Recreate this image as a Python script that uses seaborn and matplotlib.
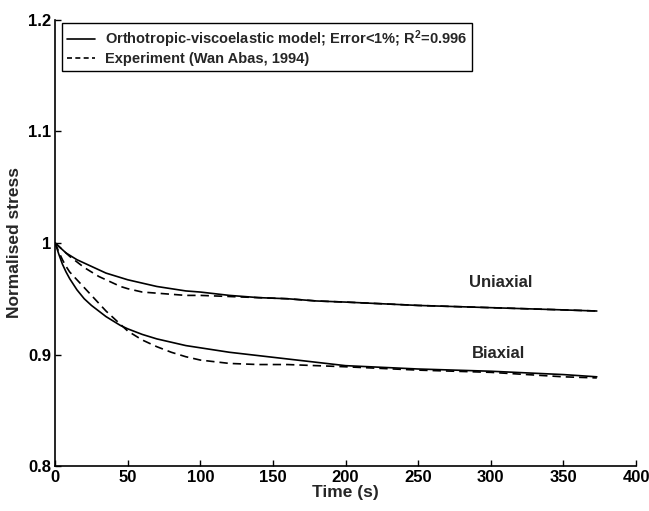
import matplotlib
matplotlib.use("Agg")
import matplotlib.pyplot as plt
import seaborn as sns
import pandas as pd

# ---- data ----
time_s = [0, 2.5, 5, 7.5, 10, 15, 20, 25, 30, 35, 40, 45, 50, 60, 70, 80, 90, 100,
          120, 140, 160, 180, 200, 250, 300, 350, 373]
uni_model = [1.000, 0.997, 0.994, 0.991, 0.989, 0.985, 0.982, 0.979, 0.976, 0.973, 0.971, 0.969,
             0.967, 0.964, 0.961, 0.959, 0.957, 0.956, 0.953, 0.951, 0.950, 0.948, 0.947,
             0.944, 0.942, 0.940, 0.939]
uni_exp = [1.000, 0.997, 0.994, 0.991, 0.988, 0.983, 0.978, 0.974, 0.970, 0.967, 0.964, 0.961,
           0.959, 0.956, 0.955, 0.954, 0.953, 0.953, 0.952, 0.951, 0.950, 0.948, 0.947,
           0.944, 0.942, 0.940, 0.939]
bi_model = [1.000, 0.990, 0.981, 0.974, 0.968, 0.958, 0.950, 0.944, 0.939, 0.934, 0.930, 0.926,
            0.923, 0.918, 0.914, 0.911, 0.908, 0.906, 0.902, 0.899, 0.896, 0.893, 0.890,
            0.887, 0.885, 0.882, 0.880]
bi_exp = [1.000, 0.992, 0.985, 0.979, 0.974, 0.967, 0.960, 0.953, 0.946, 0.939, 0.933, 0.927,
          0.921, 0.913, 0.907, 0.902, 0.898, 0.895, 0.892, 0.891, 0.891, 0.890, 0.889,
          0.886, 0.884, 0.880, 0.879]

legend_labels = ["Orthotropic-viscoelastic model; Error<1%; R$^{2}$=0.996",
                 "Experiment (Wan Abas, 1994)"]
case_labels = ["Uniaxial", "Biaxial"]
x_ticks = [0, 50, 100, 150, 200, 250, 300, 350, 400]
y_ticks = [0.8, 0.9, 1.0, 1.1, 1.2]
y_ticklabels = ["0.8", "0.9", "1", "1.1", "1.2"]

sns.set_theme(style="white")
plt.rcParams['font.family'] = ['Liberation Sans', 'DejaVu Sans']
plt.rcParams['mathtext.fontset'] = 'custom'
plt.rcParams['mathtext.rm'] = 'Liberation Sans:bold'
plt.rcParams['mathtext.it'] = 'Liberation Sans:bold'
plt.rcParams['mathtext.bf'] = 'Liberation Sans:bold'

fig = plt.figure(figsize=(6.49, 5.11), dpi=100)
ax = fig.add_axes([0.085, 0.088, 0.895, 0.873])

series = [
    (uni_model, False, legend_labels[0]),
    (uni_exp, True, legend_labels[1]),
    (bi_model, False, None),
    (bi_exp, True, None),
]
for vals, dashed, lab in series:
    df = pd.DataFrame({"t": time_s, "s": vals})
    sns.lineplot(data=df, x="t", y="s", ax=ax, label=lab, color="black", linewidth=1.2)
    if dashed:
        ax.lines[-1].set_dashes((5, 3))

ax.set_xlim(0, 400)
ax.set_ylim(0.8, 1.2)
ax.set_xticks(x_ticks)
ax.set_yticks(y_ticks)
ax.set_yticklabels(y_ticklabels)
for lbl in ax.get_xticklabels() + ax.get_yticklabels():
    lbl.set_fontweight("bold")
    lbl.set_fontsize(12)
ax.tick_params(direction="in", length=4, width=1, colors="black", pad=3,
               bottom=True, left=True)
ax.set_xlabel("Time (s)", fontsize=12.5, fontweight="bold", labelpad=0)
ax.set_ylabel("Normalised stress", fontsize=12.5, fontweight="bold", labelpad=4)

sns.despine(ax=ax, top=True, right=True)
for sp in ["left", "bottom"]:
    ax.spines[sp].set_color("black")
    ax.spines[sp].set_linewidth(1.2)

ax.text(307, 0.965, case_labels[0], fontsize=12, fontweight="bold", ha="center", va="center")
ax.text(305, 0.901, case_labels[1], fontsize=12, fontweight="bold", ha="center", va="center")

leg = ax.legend(loc="upper left", bbox_to_anchor=(0.012, 0.993), borderaxespad=0,
                frameon=True, fancybox=False, framealpha=1, edgecolor="black",
                prop={"weight": "bold", "size": 10.5},
                handlelength=1.9, handletextpad=0.7, borderpad=0.35, labelspacing=0.15)
leg.get_frame().set_linewidth(1.0)
for h in leg.get_lines():
    h.set_color("black")
leg.get_lines()[1].set_dashes((3, 2))

fig.savefig("out.png", dpi=100)
